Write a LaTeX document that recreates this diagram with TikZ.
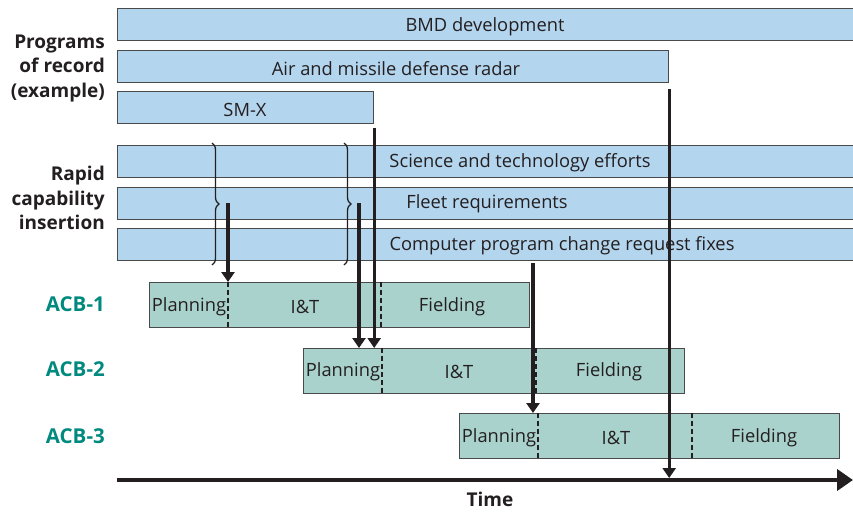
\documentclass[tikz,border=0pt]{standalone}
\usepackage{fontspec}
\setmainfont{Open Sans}
\usetikzlibrary{arrows.meta,decorations.pathreplacing}
\definecolor{barblue}{HTML}{B4D5EE}
\definecolor{acbgreen}{HTML}{A9D2CC}
\definecolor{tealtxt}{HTML}{00897E}
\definecolor{edge}{HTML}{4A4A4A}
\definecolor{ink}{HTML}{231F20}
\begin{document}
\begin{tikzpicture}[x=1pt,y=-1pt,
  txt/.style={font=\fontsize{18.3}{21}\selectfont, text=ink, inner sep=0pt, yshift=-2pt},
  bar/.style={draw=edge, line width=1.2pt, fill=barblue, anchor=north west, inner sep=0pt, minimum height=32pt},
  acbbox/.style={draw=edge, line width=1.2pt, fill=acbgreen, anchor=north west, inner sep=0pt, minimum height=45pt},
  divider/.style={ink, line width=2.2pt, dash pattern=on 5pt off 3pt},
  side/.style={font=\fontsize{19}{24.5}\selectfont\bfseries, text=ink, align=right, anchor=east, inner sep=0pt},
  acblabel/.style={font=\fontsize{20.5}{22}\selectfont\bfseries, text=tealtxt, anchor=east, inner sep=0pt},
  arr/.style={ink, line width=3.3pt, -{Triangle[width=13pt,length=10pt]}},
  bracestyle/.style={ink, line width=1.3pt, decorate, decoration={brace, amplitude=7pt}}
]
\useasboundingbox (0,0) rectangle (853,512);

% Programs of record
\node[bar, minimum width=740pt] (bmd) at (117,8) {};
\node[bar, minimum width=551pt] (air) at (117,50) {};
\node[bar, minimum width=256pt] (smx) at (117,91) {};
\node[txt] (bmdt) at (485,25) {BMD development};
\node[txt] (airt) at (396,67) {Air and missile defense radar};
\node[txt] (smxt) at (245,108) {SM-X};

% Rapid capability insertion
\node[bar, minimum width=740pt] (sci) at (117,145) {};
\node[bar, minimum width=740pt] (fleet) at (117,187) {};
\node[bar, minimum width=740pt] (cpcr) at (117,228) {};
\node[txt] (scit) at (520,161) {Science and technology efforts};
\node[txt] (fleett) at (487,202) {Fleet requirements};
\node[txt] (cpcrt) at (562,244) {Computer program change request fixes};

% side labels
\node[side] (por) at (105,68) {Programs\\of record\\(example)};
\node[side] (rci) at (105,198) {Rapid\\capability\\insertion};
\node[acblabel] (l1) at (105,304) {ACB-1};
\node[acblabel] (l2) at (105,369) {ACB-2};
\node[acblabel] (l3) at (105,436) {ACB-3};

% braces
\draw[bracestyle] (212,143) -- (212,265);
\draw[bracestyle] (344,143) -- (344,265);
\coordinate (b1) at (228,203);
\coordinate (b2) at (359,203);
\coordinate (c4) at (533,263);

% ACB boxes
\node[acbbox, minimum width=380pt] (acb1) at (149,282) {};
\draw[divider] ([xshift=79pt]acb1.north west) -- ([xshift=79pt]acb1.south west);
\draw[divider] ([xshift=232pt]acb1.north west) -- ([xshift=232pt]acb1.south west);
\node[txt] (p1) at (189,305) {Planning};
\node[txt] (i1) at (305,305) {I\&T};
\node[txt] (f1) at (452,305) {Fielding};

\node[acbbox, minimum width=381pt] (acb2) at (303,348) {};
\draw[divider] ([xshift=79pt]acb2.north west) -- ([xshift=79pt]acb2.south west);
\draw[divider] ([xshift=233pt]acb2.north west) -- ([xshift=233pt]acb2.south west);
\node[txt] (p2) at (343,370) {Planning};
\node[txt] (i2) at (459,370) {I\&T};
\node[txt] (f2) at (609,370) {Fielding};

\node[acbbox, minimum width=380pt] (acb3) at (459,413) {};
\draw[divider] ([xshift=79pt]acb3.north west) -- ([xshift=79pt]acb3.south west);
\draw[divider] ([xshift=233pt]acb3.north west) -- ([xshift=233pt]acb3.south west);
\node[txt] (p3) at (499,436) {Planning};
\node[txt] (i3) at (616,436) {I\&T};
\node[txt] (f3) at (764,436) {Fielding};

% time axis
\coordinate (t0) at (117,480);
\coordinate (t1) at (853,480);
\draw[ink, line width=4pt, -{Triangle[width=21pt,length=16pt]}] (t0) -- (t1);
\node[font=\fontsize{19}{22}\selectfont\bfseries, text=ink, inner sep=0pt] (time) at (490,499) {Time};

% arrows
\draw[arr] (b1) -- (b1 |- acb1.north);
\draw[arr] (b2) -- (b2 |- acb2.north);
\draw[arr] ([yshift=-4pt]smx.south east) -- (smx.south east |- acb2.north);
\draw[arr] (c4) -- (c4 |- acb3.north);
\draw[arr] ([yshift=-6pt]air.south east) -- ([yshift=2pt]air.south east |- t0);
\end{tikzpicture}
\end{document}
